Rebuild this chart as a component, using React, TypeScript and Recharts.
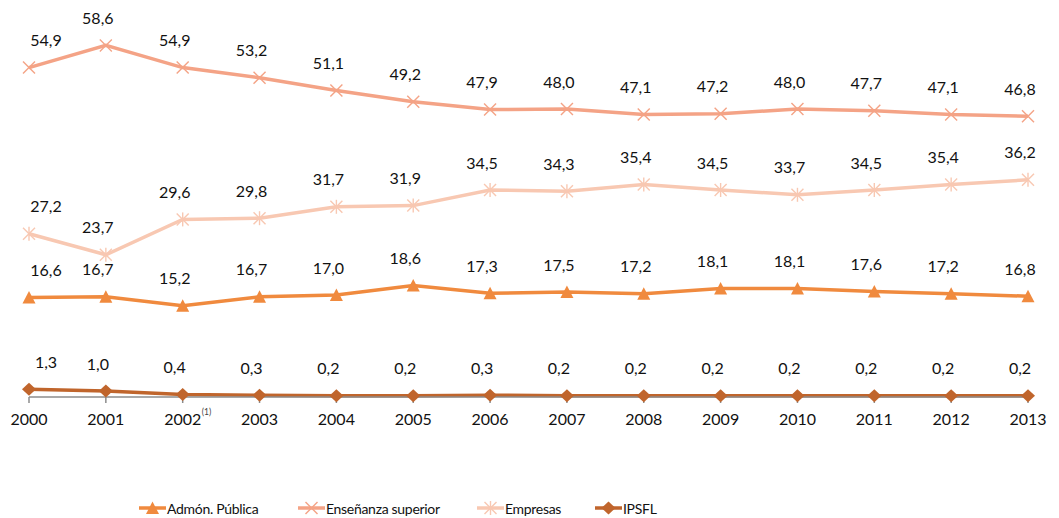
import React from "react";
import { LineChart, Line, XAxis, YAxis, LabelList } from "recharts";

const years = ["2000", "2001", "2002", "2003", "2004", "2005", "2006", "2007", "2008", "2009", "2010", "2011", "2012", "2013"];
const admon = [16.6, 16.7, 15.2, 16.7, 17.0, 18.6, 17.3, 17.5, 17.2, 18.1, 18.1, 17.6, 17.2, 16.8];
const ensenanza = [54.9, 58.6, 54.9, 53.2, 51.1, 49.2, 47.9, 48.0, 47.1, 47.2, 48.0, 47.7, 47.1, 46.8];
const empresas = [27.2, 23.7, 29.6, 29.8, 31.7, 31.9, 34.5, 34.3, 35.4, 34.5, 33.7, 34.5, 35.4, 36.2];
const ipsfl = [1.3, 1.0, 0.4, 0.3, 0.2, 0.2, 0.3, 0.2, 0.2, 0.2, 0.2, 0.2, 0.2, 0.2];
const footnoteYear = "2002";

const data = years.map((y, i) => ({
  year: y,
  admon: admon[i],
  ensenanza: ensenanza[i],
  empresas: empresas[i],
  ipsfl: ipsfl[i],
}));

const FONT = "Lato, 'Open Sans', sans-serif";
const C_ADMON = "#F08A3E";
const C_ENS = "#F4A386";
const C_EMP = "#F8C8B2";
const C_IPSFL = "#C0652C";

type Shape = "triangle" | "cross" | "star" | "diamond";

function Marker({ cx, cy, shape, color }: { cx: number; cy: number; shape: Shape; color: string }) {
  const r = 6.5;
  if (shape === "triangle")
    return <polygon points={`${cx},${cy - r} ${cx + r},${cy + r - 0.5} ${cx - r},${cy + r - 0.5}`} fill={color} />;
  if (shape === "diamond")
    return <polygon points={`${cx},${cy - r} ${cx + 7},${cy} ${cx},${cy + r} ${cx - 7},${cy}`} fill={color} />;
  const s = 6;
  return (
    <g stroke={color} strokeWidth={1.4}>
      <line x1={cx - s} y1={cy - s} x2={cx + s} y2={cy + s} />
      <line x1={cx - s} y1={cy + s} x2={cx + s} y2={cy - s} />
      {shape === "star" && <line x1={cx} y1={cy - s - 1} x2={cx} y2={cy + s + 1} />}
    </g>
  );
}

const dotFor = (shape: Shape, color: string) => (p: any) =>
  <Marker key={`${shape}-${p.index}`} cx={p.cx} cy={p.cy} shape={shape} color={color} />;

const fmt = (v: number) => v.toFixed(1).replace(".", ",");

const renderLabel = (p: any) => {
  const dx = p.index === 0 ? 17 : -8;
  return (
    <text x={p.x + dx} y={p.y - 28} textAnchor="middle" dominantBaseline="central"
      fontFamily={FONT} fontSize={16} fill="#111">
      {fmt(Number(p.value))}
    </text>
  );
};

const YearTick = (p: any) => {
  const v = p.payload.value;
  return (
    <g>
      <text x={p.x} y={418} textAnchor="middle" dominantBaseline="central" fontFamily={FONT} fontSize={16} fill="#111">
        {v}
      </text>
      {v === footnoteYear && (
        <text x={p.x + 19} y={412} textAnchor="start" dominantBaseline="central" fontFamily={FONT} fontSize={8.5} fill="#444">
          (1)
        </text>
      )}
    </g>
  );
};

const legendItems: { label: string; shape: Shape; color: string }[] = [
  { label: "Admón. Pública", shape: "triangle", color: C_ADMON },
  { label: "Enseñanza superior", shape: "cross", color: C_ENS },
  { label: "Empresas", shape: "star", color: C_EMP },
  { label: "IPSFL", shape: "diamond", color: C_IPSFL },
];
// left edge of each legend entry
const legendLeft = [139, 298, 477, 595];

export default function App() {
  return (
    <div style={{ position: "absolute", left: 0, top: 0, width: 1059, height: 518, background: "#fff" }}>
      <LineChart width={1059} height={518} data={data} margin={{ top: 37, right: 31, left: 29, bottom: 91 }}>
        <XAxis dataKey="year" interval={0} tick={<YearTick />} axisLine={{ stroke: "#8c8c8c", strokeWidth: 1.5 }}
          tickLine={{ stroke: "#8c8c8c", strokeWidth: 1.5 }} tickSize={6} height={30} />
        <YAxis hide domain={[0, 60]} />
        <Line dataKey="empresas" stroke={C_EMP} strokeWidth={3.5} dot={dotFor("star", C_EMP)} isAnimationActive={false}>
          <LabelList dataKey="empresas" content={renderLabel} />
        </Line>
        <Line dataKey="ensenanza" stroke={C_ENS} strokeWidth={3.5} dot={dotFor("cross", C_ENS)} isAnimationActive={false}>
          <LabelList dataKey="ensenanza" content={renderLabel} />
        </Line>
        <Line dataKey="admon" stroke={C_ADMON} strokeWidth={3.5} dot={dotFor("triangle", C_ADMON)} isAnimationActive={false}>
          <LabelList dataKey="admon" content={renderLabel} />
        </Line>
        <Line dataKey="ipsfl" stroke={C_IPSFL} strokeWidth={3.5} dot={dotFor("diamond", C_IPSFL)} isAnimationActive={false}>
          <LabelList dataKey="ipsfl" content={renderLabel} />
        </Line>
      </LineChart>
      {legendItems.map((it, i) => (
        <div key={it.label} style={{ position: "absolute", left: legendLeft[i], top: 498, display: "flex", alignItems: "center", height: 20,
          fontFamily: FONT, fontSize: 14, letterSpacing: -0.3, color: "#111", whiteSpace: "nowrap" }}>
          <svg width={27} height={20} style={{ marginRight: 1 }}>
            <line x1={0} y1={10} x2={27} y2={10} stroke={it.color} strokeWidth={3.5} />
            <Marker cx={13.5} cy={10} shape={it.shape} color={it.color} />
          </svg>
          <span>{it.label}</span>
        </div>
      ))}
    </div>
  );
}
